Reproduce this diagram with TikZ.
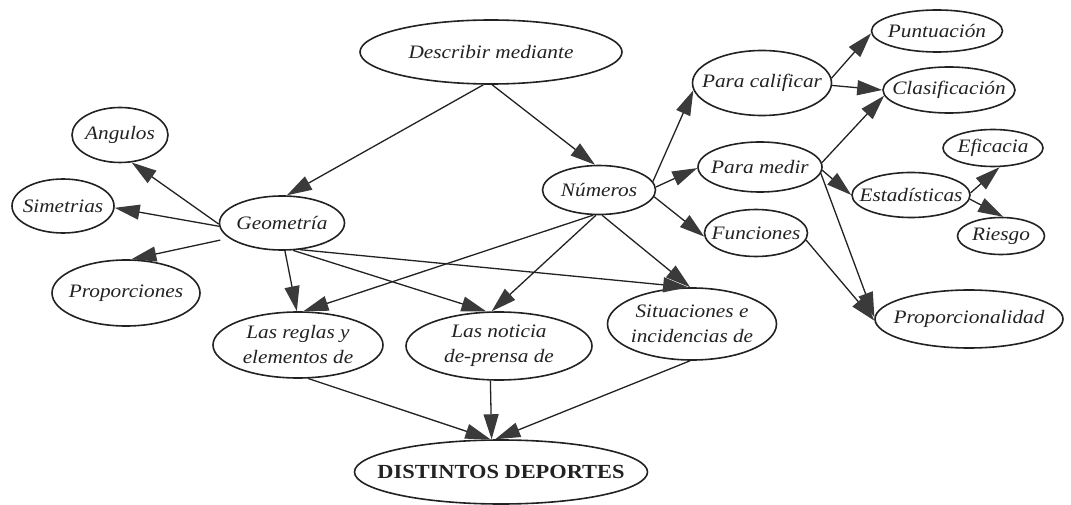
\documentclass[tikz,border=0pt]{standalone}
\usepackage{fontspec}
\setmainfont{Liberation Serif}[FakeStretch=1.12]
\usetikzlibrary{shapes.geometric,arrows.meta}

\definecolor{ink}{HTML}{222222}
\definecolor{tipgray}{HTML}{3A3A3A}

\tikzset{
  oval/.style={draw=ink, line width=1.6pt, ellipse, inner sep=0pt},
  lbl/.style={font=\fontsize{19}{25}\selectfont\itshape, text=ink, align=center, inner sep=0pt},
  boldlbl/.style={lbl, font=\fontsize{20}{25}\selectfont\bfseries},
  link/.style={draw=ink, line width=1.3pt, -{Triangle[length=25pt,width=15pt,color=tipgray]}},
}

\begin{document}
\begin{tikzpicture}[x=1pt,y=-1pt]
\useasboundingbox (0,0) rectangle (1071,505);

% concept ovals
\node[oval, minimum width=262pt, minimum height=64pt, label={[lbl]center:Describir mediante}] (desc) at (491,52) {};
\node[oval, minimum width=125pt, minimum height=54pt, label={[lbl]center:Geometría}] (geo) at (282,223) {};
\node[oval, minimum width=96pt,  minimum height=55pt, label={[lbl]center:Angulos}] (ang) at (120,135) {};
\node[oval, minimum width=102pt, minimum height=54pt, label={[lbl]center:Simetrias}] (sim) at (63,206) {};
\node[oval, minimum width=148pt, minimum height=66pt, label={[lbl]center:Proporciones}] (prop) at (126,293) {};
\node[oval, minimum width=170pt, minimum height=66pt, label={[lbl]center:Las reglas y\\elementos de}] (reg) at (298,345) {};
\node[oval, minimum width=186pt, minimum height=68pt, label={[lbl]center:Las noticia\\de-prensa de}] (news) at (499,346) {};
\node[oval, minimum width=169pt, minimum height=72pt, label={[lbl]center:Situaciones e\\incidencias de}] (sit) at (692,324) {};
\node[oval, minimum width=293pt, minimum height=64pt, label={[boldlbl]center:DISTINTOS DEPORTES}] (dist) at (501,472) {};
\node[oval, minimum width=113pt, minimum height=49pt, label={[lbl]center:Números}] (num) at (599,190) {};
\node[oval, minimum width=139pt, minimum height=65pt, label={[lbl]center:Para calificar}] (pcal) at (762,83) {};
\node[oval, minimum width=124pt, minimum height=50pt, label={[lbl]center:Para medir}] (pmed) at (760,167) {};
\node[oval, minimum width=103pt, minimum height=47pt, label={[lbl]center:Funciones}] (fun) at (756,233) {};
\node[oval, minimum width=131pt, minimum height=42pt, label={[lbl]center:Puntuación}] (pun) at (937,31) {};
\node[oval, minimum width=132pt, minimum height=46pt, label={[lbl]center:Clasificación}] (cla) at (949,90) {};
\node[oval, minimum width=100pt, minimum height=37pt, label={[lbl]center:Eficacia}] (efi) at (993,148) {};
\node[oval, minimum width=118pt, minimum height=45pt, label={[lbl]center:Estadísticas}] (est) at (911,195) {};
\node[oval, minimum width=87pt,  minimum height=37pt, label={[lbl]center:Riesgo}] (rie) at (1001,236) {};
\node[oval, minimum width=188pt, minimum height=58pt, label={[lbl]center:Proporcionalidad}] (prl) at (969,319) {};

% connectors
\draw[link] (desc.257) -- (geo.80);
\draw[link] (desc.272) -- (num.99);

\draw[link] (geo.181) -- (ang.293);
\draw[link] (geo.183) -- (sim.358);
\draw[link, shorten <=9pt] (geo.196) -- (prop.81);
\draw[link] (geo.276) -- (reg.92);
\draw[link] (geo.292) -- (news.110);
\draw[link] (geo.304) -- (sit.96);

\draw[link] (num.257) -- (reg.81);
\draw[link] (num.263) -- (news.102);
\draw[link] (num.277) -- (sit.93);
\draw[link] (num.9) -- (pcal.186);
\draw[link] (num.3) -- (pmed.181);
\draw[link] (num.353) -- (fun.184);

\draw[link] (pcal.4) -- (pun.182);
\draw[link] (pcal.358) -- (cla.180);
\draw[link] (pmed.4) -- (cla.185);
\draw[link] (pmed.357) -- (est.180);
\draw[link] (pmed.354) -- (prl.179);
\draw[link] (fun.352) -- (prl.181);

\draw[link] (est.2) -- (efi.289);
\draw[link] (est.356) -- (rie.84);

\draw[link] (reg.287) -- (dist.108);
\draw[link] (news.256) -- (dist.106);
\draw[link] (sit.267) -- (dist.100);
\end{tikzpicture}
\end{document}
